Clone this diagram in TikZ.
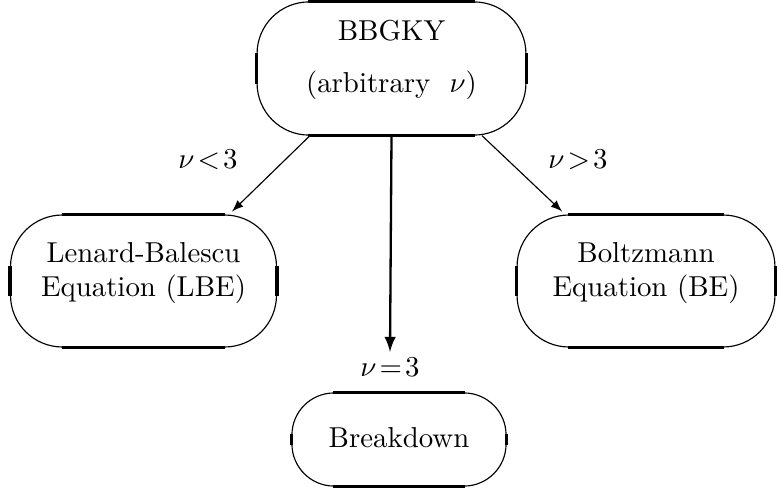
\documentclass[tikz,border=0pt]{standalone}
\usetikzlibrary{arrows}
\tikzset{
	oval/.style={draw, line width=0.4pt, rounded corners=18pt, inner sep=0pt},
	txt/.style={align=center, yshift=#1},
}
\begin{document}
\begin{tikzpicture}[x=0.347pt, y=-0.347pt]
		\useasboundingbox (0,0) rectangle (777,491);
		\node[oval, minimum width=93.3pt, minimum height=46.2pt, label={[txt=3pt]center:BBGKY\\[6pt](arbitrary\ \ $\nu$)}] (bbgky) at (391.5,68.5) {};
		\node[oval, minimum width=92.3pt, minimum height=45.8pt, label={[txt=2.8pt]center:Lenard-Balescu\\Equation (LBE)}] (lbe) at (143.5,281) {};
		\node[oval, minimum width=89.5pt, minimum height=45.8pt, label={[txt=2.8pt]center:Boltzmann\\Equation (BE)}] (be) at (646,281) {};
		\node[oval, rounded corners=14.6pt, minimum width=74.3pt, minimum height=32.3pt, label={[txt=0.8pt]center:Breakdown}] (brk) at (399,439.5) {};
		\foreach \nd/\rad in {bbgky/18pt, lbe/18pt, be/18pt, brk/14.6pt}{
		\draw[line width=1.1pt] ([xshift=\rad]\nd.north west) -- ([xshift=-\rad]\nd.north east);
		\draw[line width=1.1pt] ([xshift=\rad]\nd.south west) -- ([xshift=-\rad]\nd.south east);
		\draw[line width=1.1pt] ([yshift=-\rad]\nd.north west) -- ([yshift=\rad]\nd.south west);
		\draw[line width=1.1pt] ([yshift=-\rad]\nd.north east) -- ([yshift=\rad]\nd.south east);
		}
		\node (nlt) at (208,160) {$\nu\!<\!3$};
		\node (ngt) at (578,160) {$\nu\!>\!3$};
		\node (neq) at (390,367) {$\nu\!=\!3$};
		\draw[-latex] ([xshift=-28.3pt]bbgky.south) -- ([xshift=30.7pt, yshift=1pt]lbe.north);
		\draw[-latex] ([xshift=31.4pt]bbgky.south) -- ([xshift=-29.1pt, yshift=1pt]be.north);
		\draw[line width=0.8pt, -latex] (bbgky.south) -- ([yshift=-1.5pt]neq.north);
		\end{tikzpicture}
\end{document}
